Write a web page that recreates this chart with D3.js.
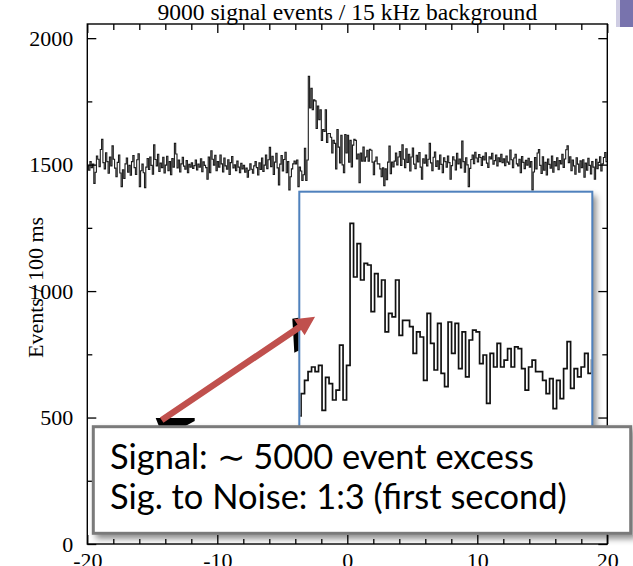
<!DOCTYPE html>
<html>
<head>
<meta charset="utf-8">
<script src="https://cdn.jsdelivr.net/npm/d3@7"></script>
<style>
  html, body { margin: 0; padding: 0; background: #fff; }
  svg { display: block; }
</style>
</head>
<body>
<svg id="chart" width="633" height="566"></svg>
<script>
// ---- data: events per 100 ms bin, from -20 s to +20 s ----
const binStart = -20;
const binWidth = 0.1;

// -20.0 s .. -3.1 s : background only
const preBurst = [
  1495, 1478, 1512, 1488, 1502, 1426, 1470, 1534, 1521, 1492, 1560, 1600, 1508, 1483, 1547, 1512, 1466, 1530, 1495, 1574,
  1521, 1486, 1452, 1509, 1538, 1467, 1413, 1480, 1445, 1503, 1526, 1470, 1497, 1458, 1512, 1536, 1488, 1461, 1519, 1543,
  1413, 1476, 1502, 1468, 1409, 1490, 1524, 1481, 1530, 1497, 1462, 1578, 1520, 1495, 1541, 1473, 1506, 1488, 1529, 1467,
  1498, 1533, 1476, 1512, 1460, 1524, 1490, 1584, 1542, 1487, 1518, 1471, 1503, 1529, 1494, 1482, 1516, 1468, 1501, 1490,
  1507, 1485, 1496, 1518, 1479, 1502, 1490, 1523, 1472, 1511, 1497, 1488, 1442, 1530, 1468, 1555, 1521, 1498, 1537, 1476,
  1512, 1490, 1538, 1503, 1471, 1526, 1495, 1482, 1519, 1461, 1508, 1532, 1487, 1499, 1476, 1514, 1490, 1468, 1505, 1483,
  1497, 1470, 1486, 1450, 1478, 1503, 1482, 1466, 1495, 1512, 1488, 1459, 1507, 1481, 1526, 1473, 1498, 1538, 1484, 1519,
  1568, 1492, 1533, 1461, 1510, 1545, 1487, 1420, 1502, 1536, 1475, 1520, 1549, 1468, 1512,
  1400, 1452, 1483, 1503, 1514, 1503, 1518, 1413, 1490, 1475, 1437, 1460, 1565, 1437, 1518
];

// -3.0 s .. +3.9 s : burst onset and decay
const burst = [
  1849, 1724, 1802, 1717, 1756, 1752, 1643, 1732, 1678, 1717,
  1596, 1639, 1631, 1717, 1588, 1623, 1623, 1608, 1546, 1596,
  1584, 1483, 1639, 1569, 1507, 1616, 1499, 1468, 1619, 1546,
  1616, 1510, 1596, 1491, 1577, 1600, 1596, 1522, 1542, 1429,
  1546, 1514, 1569, 1514, 1530, 1557, 1514, 1561, 1557, 1510,
  1460, 1514, 1530, 1503, 1503, 1483, 1452, 1487, 1417, 1483,
  1440, 1510, 1573, 1464, 1510, 1491, 1514, 1546, 1499, 1530
];

// +4.0 s .. +19.9 s : back to background
const postBurst = [
  1552, 1497, 1578, 1521, 1488, 1563, 1509, 1541, 1475, 1530, 1566, 1502, 1484, 1537, 1511, 1548, 1490, 1442, 1523, 1506,
  1538, 1495, 1521, 1584, 1507, 1476, 1529, 1550, 1493, 1515, 1482, 1538, 1501, 1468, 1527, 1512, 1490, 1534, 1508, 1442,
  1496, 1531, 1518, 1479, 1545, 1503, 1522, 1487, 1593, 1512, 1470, 1527, 1499, 1413, 1485, 1520, 1538, 1504, 1549, 1526,
  1511, 1540, 1528, 1497, 1533, 1518, 1547, 1506, 1489, 1531, 1522, 1545, 1502, 1516, 1538, 1495, 1527, 1512, 1541, 1508,
  1523, 1496, 1534, 1510, 1502, 1558, 1519, 1488, 1526, 1541, 1503, 1495, 1521, 1468, 1532, 1509, 1484, 1517, 1498, 1525,
  1490, 1512, 1400, 1471, 1528, 1483, 1546, 1560, 1497, 1465, 1531, 1478, 1509, 1459, 1522, 1501, 1486, 1534, 1470, 1512,
  1495, 1527, 1480, 1516, 1503, 1541, 1489, 1522, 1559, 1574, 1508, 1531, 1476, 1518, 1495, 1462, 1527, 1502, 1470, 1515,
  1488, 1519, 1450, 1506, 1478, 1525, 1497, 1463, 1512, 1490, 1442, 1521, 1484, 1509, 1531, 1475, 1503, 1528, 1548, 1512
];

const xDomain = [-20, 20];
const yDomain = [0, 2056];
const xMajorTicks = [-20, -10, 0, 10, 20];
const xMinorTicks = [-18, -16, -14, -12, -8, -6, -4, -2, 2, 4, 6, 8, 12, 14, 16, 18];
const yMajorTicks = [0, 500, 1000, 1500, 2000];
const yMinorTicks = [250, 750, 1250, 1750];

// zoomed view of the burst
const zoomTimeRange = [-4.45, 3.92];
const zoomCountRange = [1332, 1923];

// callout arrow, in data units of the main plot
const arrowTail = [-14.28, 490];
const arrowTip = [-2.48, 899];

const titleText = "9000 signal events / 15 kHz background";
const yLabelText = "Events / 100 ms";
const noteLines = ["Signal: \u223C 5000 event excess", "Sig. to Noise: 1:3 (first second)"];

// ---- layout ----
const frame = { left: 87.3, right: 607.3, top: 24, bottom: 544 };
const zoomBox = { left: 299.3, right: 592.3, top: 191.7, bottom: 445 };
const noteBox = { left: 93.3, right: 630.7, top: 426.7, bottom: 533.3 };
const serif = "'Liberation Serif', 'Times New Roman', Times, serif";

const svg = d3.select("#chart");
const defs = svg.append("defs");

const shadow = defs.append("filter").attr("id", "shadow")
  .attr("x", "-10%").attr("y", "-10%").attr("width", "130%").attr("height", "130%");
shadow.append("feDropShadow").attr("dx", 4).attr("dy", 4).attr("stdDeviation", 3)
  .attr("flood-color", "#000").attr("flood-opacity", 0.45);

defs.append("clipPath").attr("id", "plotClip").append("rect")
  .attr("x", frame.left).attr("y", frame.top)
  .attr("width", frame.right - frame.left).attr("height", frame.bottom - frame.top);
defs.append("clipPath").attr("id", "zoomClip").append("rect")
  .attr("x", zoomBox.left + 1).attr("y", zoomBox.top + 1)
  .attr("width", zoomBox.right - zoomBox.left - 2).attr("height", zoomBox.bottom - zoomBox.top - 2);

const x = d3.scaleLinear().domain(xDomain).range([frame.left, frame.right]);
const y = d3.scaleLinear().domain(yDomain).range([frame.bottom, frame.top]);

// histogram as a step outline
const counts = preBurst.concat(burst, postBurst);
const steps = counts.map((v, i) => [binStart + i * binWidth, v]);
steps.push([binStart + counts.length * binWidth, counts[counts.length - 1]]);

const histLine = (xs, ys) => d3.line().x(d => xs(d[0])).y(d => ys(d[1])).curve(d3.curveStepAfter);

svg.append("path")
  .attr("clip-path", "url(#plotClip)")
  .attr("d", histLine(x, y)(steps))
  .attr("fill", "none").attr("stroke", "#1a1a1a").attr("stroke-width", 1.1);

// ---- frame and ticks ----
svg.append("rect")
  .attr("x", frame.left).attr("y", frame.top)
  .attr("width", frame.right - frame.left).attr("height", frame.bottom - frame.top)
  .attr("fill", "none").attr("stroke", "#000").attr("stroke-width", 1.4);

function styleAxis(g) {
  g.select(".domain").remove();
  g.selectAll(".tick line").attr("stroke", "#000").attr("stroke-width", 1.3);
  g.selectAll("text").attr("font-family", serif).attr("font-size", 22).attr("fill", "#000");
}

svg.append("g").attr("transform", `translate(${frame.left},0)`)
  .call(d3.axisLeft(y).tickValues(yMajorTicks).tickSize(-9).tickPadding(14).tickFormat(d => String(d)))
  .call(styleAxis);
svg.append("g").attr("transform", `translate(${frame.left},0)`)
  .call(d3.axisLeft(y).tickValues(yMinorTicks).tickSize(-5).tickFormat(""))
  .call(styleAxis);
svg.append("g").attr("transform", `translate(${frame.right},0)`)
  .call(d3.axisRight(y).tickValues(yMajorTicks).tickSize(-9).tickFormat(""))
  .call(styleAxis);
svg.append("g").attr("transform", `translate(${frame.right},0)`)
  .call(d3.axisRight(y).tickValues(yMinorTicks).tickSize(-5).tickFormat(""))
  .call(styleAxis);

svg.append("g").attr("transform", `translate(0,${frame.bottom})`)
  .call(d3.axisBottom(x).tickValues(xMajorTicks).tickSize(-9).tickPadding(8).tickFormat(d => String(d)))
  .call(styleAxis);
svg.append("g").attr("transform", `translate(0,${frame.bottom})`)
  .call(d3.axisBottom(x).tickValues(xMinorTicks).tickSize(-5).tickFormat(""))
  .call(styleAxis);
svg.append("g").attr("transform", `translate(0,${frame.top})`)
  .call(d3.axisTop(x).tickValues(xMajorTicks).tickSize(-9).tickFormat(""))
  .call(styleAxis);
svg.append("g").attr("transform", `translate(0,${frame.top})`)
  .call(d3.axisTop(x).tickValues(xMinorTicks).tickSize(-6).tickFormat(""))
  .call(styleAxis);

// title
const title = svg.append("text")
  .attr("x", (frame.left + frame.right) / 2).attr("y", 20)
  .attr("text-anchor", "middle")
  .attr("font-family", serif).attr("font-size", 22).attr("fill", "#000")
  .text(titleText);
{
  const w = title.node().getComputedTextLength();
  title.attr("font-size", 22 * 380 / w);
}

// y axis label
svg.append("text")
  .attr("transform", "translate(43,358) rotate(-90)")
  .attr("text-anchor", "start")
  .attr("font-family", serif).attr("font-size", 22).attr("fill", "#000")
  .text(yLabelText);

// ---- zoomed view of the burst ----
const zx = d3.scaleLinear().domain(zoomTimeRange).range([zoomBox.left, zoomBox.right]);
const zy = d3.scaleLinear().domain(zoomCountRange).range([zoomBox.bottom, zoomBox.top]);

svg.append("rect")
  .attr("x", zoomBox.left).attr("y", zoomBox.top)
  .attr("width", zoomBox.right - zoomBox.left).attr("height", zoomBox.bottom - zoomBox.top)
  .attr("fill", "#fff").attr("filter", "url(#shadow)");

svg.append("path")
  .attr("clip-path", "url(#zoomClip)")
  .attr("d", histLine(zx, zy)(steps))
  .attr("fill", "none").attr("stroke", "#111").attr("stroke-width", 1.7)
  .attr("stroke-linejoin", "miter");

svg.append("rect")
  .attr("x", zoomBox.left).attr("y", zoomBox.top)
  .attr("width", zoomBox.right - zoomBox.left).attr("height", zoomBox.bottom - zoomBox.top)
  .attr("fill", "none").attr("stroke", "#4f81bd").attr("stroke-width", 2);

// ---- arrow from the note to the zoomed view ----
const tail = [x(arrowTail[0]), y(arrowTail[1])];
const tip = [x(arrowTip[0]), y(arrowTip[1])];

// dark grips at both ends of the arrow
svg.append("path")
  .attr("d", `M${tail[0] - 6},${tail[1] - 2} L${tail[0] + 33},${tail[1] - 2} L${tail[0] + 33},${tail[1] + 1} L${tail[0] + 22},${tail[1] + 7} L${tail[0] - 2},${tail[1] + 8} Z`)
  .attr("fill", "#000");
svg.append("path")
  .attr("d", `M${zoomBox.left - 7},${tip[1] + 2} L${zoomBox.left - 1},${tip[1] + 1} L${zoomBox.left - 1},${tip[1] + 34} L${zoomBox.left - 5},${tip[1] + 36} L${zoomBox.left - 6},${tip[1] + 18} Z`)
  .attr("fill", "#000");

{
  const dx = tip[0] - tail[0], dy = tip[1] - tail[1];
  const len = Math.hypot(dx, dy);
  const ux = dx / len, uy = dy / len;
  const px = -uy, py = ux;
  const headLen = 19, headHalf = 9.5, shaftHalf = 3.2;
  const bx = tip[0] - ux * headLen, by = tip[1] - uy * headLen;
  const pts = [
    [tail[0] + px * shaftHalf, tail[1] + py * shaftHalf],
    [bx + px * shaftHalf, by + py * shaftHalf],
    [bx + px * headHalf, by + py * headHalf],
    tip,
    [bx - px * headHalf, by - py * headHalf],
    [bx - px * shaftHalf, by - py * shaftHalf],
    [tail[0] - px * shaftHalf, tail[1] - py * shaftHalf]
  ];
  svg.append("path")
    .attr("d", "M" + pts.map(p => p.join(",")).join("L") + "Z")
    .attr("fill", "#c0504d");
}

// ---- note box ----
svg.append("rect")
  .attr("x", noteBox.left).attr("y", noteBox.top)
  .attr("width", noteBox.right - noteBox.left).attr("height", noteBox.bottom - noteBox.top)
  .attr("fill", "#fff").attr("stroke", "#7a7a7a").attr("stroke-width", 3)
  .attr("filter", "url(#shadow)");

const note = svg.append("g").attr("font-family", "Lato, 'Open Sans', sans-serif").attr("fill", "#000");
const noteText = note.selectAll("text").data(noteLines).join("text")
  .attr("x", 110).attr("y", (d, i) => 469 + i * 40)
  .attr("font-size", 30)
  .text(d => d);
{
  const w = noteText.filter((d, i) => i === 1).node().getComputedTextLength();
  noteText.attr("font-size", 30 * 457 / w);
}

// corner of a slide logo
svg.append("rect").attr("x", 619).attr("y", 0).attr("width", 14).attr("height", 27).attr("fill", "#7873ad");
svg.append("rect").attr("x", 616).attr("y", 0).attr("width", 4).attr("height", 27).attr("fill", "#cfcde3");
</script>
</body>
</html>
